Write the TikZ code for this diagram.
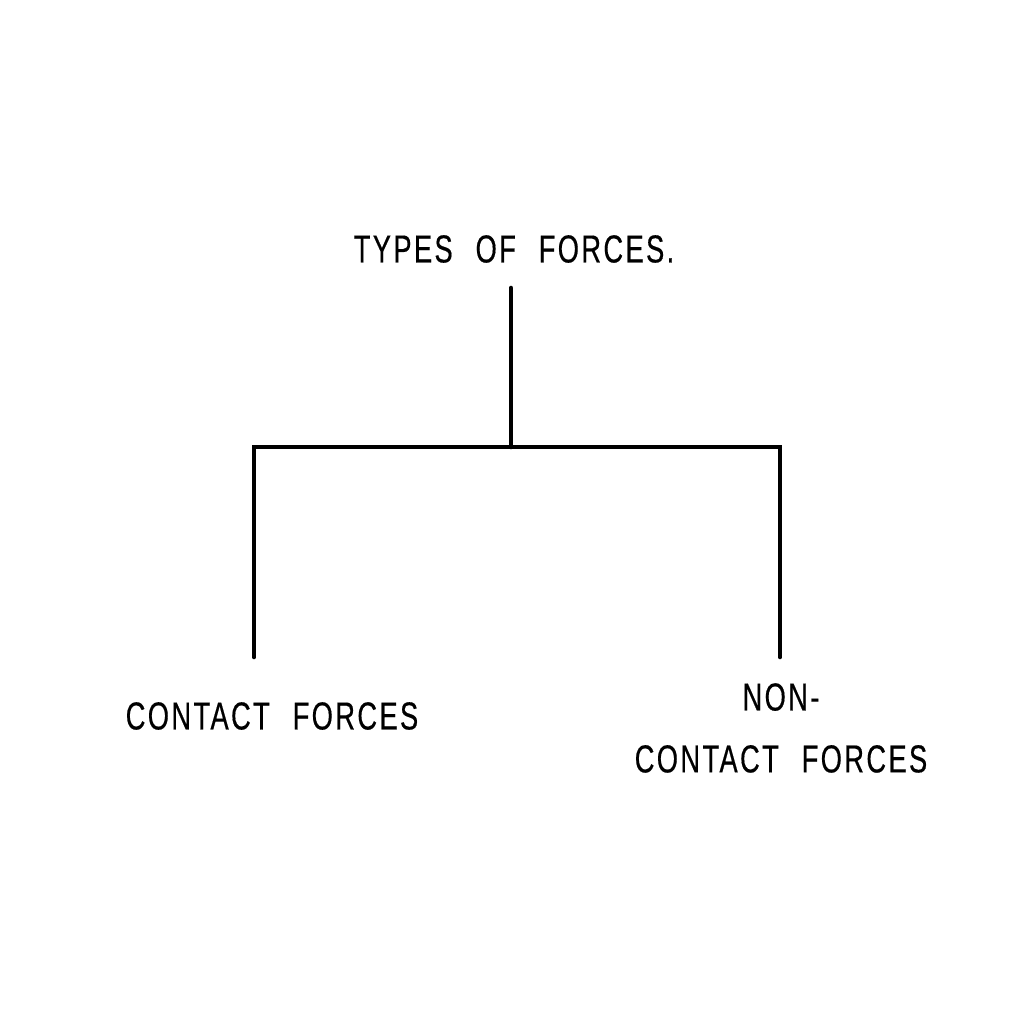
\documentclass[tikz,border=0pt]{standalone}
\usepackage{fontspec}
\setmainfont{Liberation Sans}[FakeStretch=0.7, LetterSpace=6, WordSpace=2.3, FakeBold=0.4]
\tikzset{
  label text/.style={font=\fontsize{11.1}{17.6}\selectfont, inner sep=0pt, align=center},
  branch/.style={line width=1.3pt, line cap=round}
}
\begin{document}
\begin{tikzpicture}[x=0.01cm, y=-0.01cm]
  \useasboundingbox (0,0) rectangle (1024,1024);

  % ---- labels ----
  \node[label text] (title) at (514, 249) {TYPES OF FORCES.};
  \node[label text] (contact) at (272, 716) {CONTACT FORCES};
  \node[label text] (noncontact) at (781, 728) {NON-\\CONTACT FORCES};

  % ---- tree joints ----
  \coordinate (top) at (511, 288);
  \coordinate (fork) at (511, 447);
  \coordinate (lcorner) at (254, 447);
  \coordinate (rcorner) at (780, 447);
  \coordinate (lend) at (254, 657);
  \coordinate (rend) at (780, 657);

  % ---- branches ----
  \draw[branch] (top) -- (fork);
  \draw[branch] (lend) -- (lcorner) -- (rcorner) -- (rend);
\end{tikzpicture}
\end{document}
